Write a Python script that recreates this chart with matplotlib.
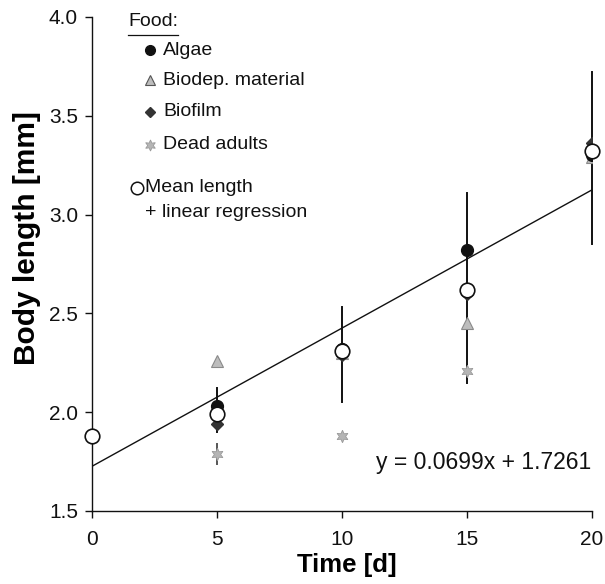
import matplotlib
matplotlib.use("Agg")
import matplotlib.pyplot as plt
from matplotlib.lines import Line2D

plt.rcParams['font.family'] = ['Liberation Sans', 'DejaVu Sans']

# Sampling days
days = [0, 5, 10, 15, 20]

# Body length per food type (mm)
algae_days = [5, 10, 15, 20]
algae_len = [2.03, 2.32, 2.82, 3.30]

biodep_days = [5, 10, 15, 20]
biodep_len = [2.26, 2.30, 2.45, 3.29]

biofilm_days = [5, 10, 15, 20]
biofilm_len = [1.94, 2.29, 2.60, 3.36]

dead_days = [5, 10, 15]
dead_len = [1.79, 1.88, 2.21]
dead_err_lo = [1.74, None, None]
dead_err_hi = [1.84, None, None]

# Mean length over all food types with range bars
mean_len = [1.88, 1.99, 2.31, 2.62, 3.32]
mean_err_lo = [None, 1.90, 2.05, 2.15, 2.85]
mean_err_hi = [None, 2.12, 2.53, 3.11, 3.72]

# Linear regression of mean length on time
slope = 0.0699
intercept = 1.7261

fig = plt.figure(figsize=(6.05, 5.84), dpi=100)
ax = fig.add_axes([0.152, 0.125, 0.826, 0.846])

# Range bars
for x, lo, hi in zip(days, mean_err_lo, mean_err_hi):
    if lo is not None:
        ax.plot([x, x], [lo, hi], color='#111111', lw=1.4, zorder=2,
                clip_on=False)
for x, lo, hi in zip(dead_days, dead_err_lo, dead_err_hi):
    if lo is not None:
        ax.plot([x, x], [lo, hi], color='#555555', lw=1.4, zorder=2)

# Regression line
xr = [days[0], days[-1]]
ax.plot(xr, [intercept + slope * x for x in xr], color='#111111', lw=1.0,
        zorder=3)

# Food-type markers
ax.plot(biodep_days, biodep_len, ls='none', marker='^', ms=8,
        mfc='#bdbdbd', mec='#8a8a8a', mew=0.8, zorder=4)
ax.plot(dead_days, dead_len, ls='none', marker=(6, 1, 0), ms=9,
        mfc='#b5b5b5', mec='#9a9a9a', mew=0.6, zorder=4)
ax.plot(biofilm_days, biofilm_len, ls='none', marker='D', ms=6.5,
        mfc='#333333', mec='#333333', zorder=4)
ax.plot(algae_days, algae_len, ls='none', marker='o', ms=8.5,
        mfc='#111111', mec='#111111', zorder=4)

# Mean length
ax.plot(days, mean_len, ls='none', marker='o', ms=10.5, mfc='white',
        mec='#111111', mew=1.2, zorder=5, clip_on=False)

ax.set_xlim(0, 20)
ax.set_ylim(1.5, 4.0)
ax.set_xticks([0, 5, 10, 15, 20])
ax.set_yticks([1.5, 2.0, 2.5, 3.0, 3.5, 4.0])
ax.set_yticklabels(['1.5', '2.0', '2.5', '3.0', '3.5', '4.0'])
ax.tick_params(direction='out', length=5, width=1.0, labelsize=15,
               colors='#111111', pad=5)
ax.tick_params(axis='x', pad=9)
for s in ['top', 'right']:
    ax.spines[s].set_visible(False)
for s in ['left', 'bottom']:
    ax.spines[s].set_linewidth(1.0)
    ax.spines[s].set_color('#111111')

ax.set_xlabel('Time [d]', fontsize=18.5, fontweight='bold')
ax.set_ylabel('Body length [mm]', fontsize=21.5, fontweight='bold')
ax.xaxis.set_label_coords(0.51, -0.085)
ax.yaxis.set_label_coords(-0.102, 0.553)

# Equation of the regression line
ax.text(20, 1.745, 'y = 0.0699x + 1.7261', ha='right', va='center',
        fontsize=16.5, color='#111111')

# Key
tr = ax.transAxes
ax.text(0.072, 0.99, 'Food:', transform=tr, ha='left', va='center',
        fontsize=14, color='#111111')
ax.add_line(Line2D([0.072, 0.172], [0.964, 0.964], transform=tr,
                   color='#111111', lw=0.9))
key_items = [
    ('Algae', 0.933, dict(marker='o', ms=7, mfc='#111111', mec='#111111')),
    ('Biodep. material', 0.872, dict(marker='^', ms=7, mfc='#bdbdbd',
                                      mec='#555555', mew=0.8)),
    ('Biofilm', 0.808, dict(marker='D', ms=5.5, mfc='#333333',
                            mec='#333333')),
    ('Dead adults', 0.741, dict(marker=(6, 1, 0), ms=8, mfc='#b5b5b5',
                                mec='#9a9a9a', mew=0.6)),
]
for label, y, style in key_items:
    ax.plot([0.116], [y], transform=tr, ls='none', clip_on=False, **style)
    ax.text(0.143, y, label, transform=tr, ha='left', va='center',
            fontsize=14, color='#111111')
ax.plot([0.09], [0.654], transform=tr, ls='none', marker='o', ms=9,
        mfc='white', mec='#111111', mew=1.1, clip_on=False)
ax.text(0.106, 0.654, 'Mean length', transform=tr, ha='left', va='center',
        fontsize=14, color='#111111')
ax.text(0.106, 0.605, '+ linear regression', transform=tr, ha='left',
        va='center', fontsize=14, color='#111111')

fig.savefig('out.png', dpi=100)
